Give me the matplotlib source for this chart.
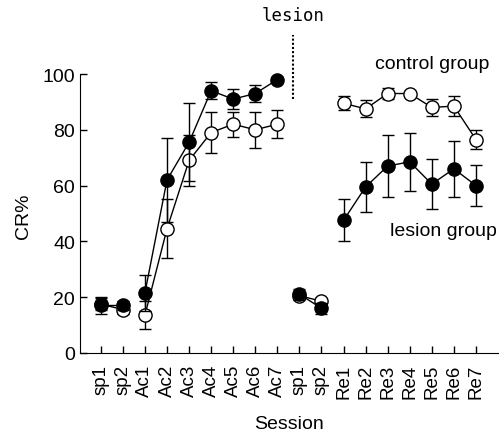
import numpy as np
import matplotlib
matplotlib.use('Agg')
import matplotlib.pyplot as plt

plt.rcParams['font.family'] = ['Liberation Sans', 'DejaVu Sans']

# sessioni (etichette asse x)
sessions = ['sp1', 'sp2', 'Ac1', 'Ac2', 'Ac3', 'Ac4', 'Ac5', 'Ac6', 'Ac7',
            'sp1', 'sp2', 'Re1', 'Re2', 'Re3', 'Re4', 'Re5', 'Re6', 'Re7']

# gruppo lesione (cerchi pieni)
lesion_mean = [17, 17, 21.5, 62, 75.5, 94, 91, 93, 98,
               21, 16, 47.5, 59.5, 67, 68.5, 60.5, 66, 60]
lesion_err = [3, 1.5, 6.5, 15, 14, 3, 3.5, 3, 1,
              2, 2, 7.5, 9, 11, 10.5, 9, 10, 7.5]

# gruppo controllo (cerchi vuoti)
control_mean = [17.5, 15.5, 13.5, 44.5, 69, 79, 82, 80, 82,
                20.5, 18.5, 89.5, 87.5, 93, 93, 88, 88.5, 76.5]
control_err = [2, 1.5, 5, 10.5, 9, 7.5, 4.5, 6.5, 5,
               1, 1, 2.5, 3, 2, 1, 3, 3.5, 3.5]

# blocchi collegati da linee
segments = [(0, 2), (2, 9), (9, 11), (11, 18)]

fig = plt.figure(figsize=(4.99, 4.39), dpi=100)
ax = fig.add_axes([0.160, 0.194, 0.838, 0.806])

x = np.arange(len(sessions))

def draw(mean, err, face, z):
    mean = np.array(mean); err = np.array(err)
    for a, b in segments:
        ax.plot(x[a:b], mean[a:b], color='k', lw=1, zorder=z)
    ax.errorbar(x, mean, yerr=err, fmt='none', ecolor='k', elinewidth=1,
                capsize=4, capthick=1, zorder=z)
    ax.plot(x, mean, 'o', ms=9.5, mfc=face, mec='k', mew=1, ls='none', zorder=z + 0.5)

draw(control_mean, control_err, 'white', 2)
draw(lesion_mean, lesion_err, 'black', 3)

ax.set_xlim(-0.95, 18.0)
ax.set_ylim(0, 126.9)
ax.spines['top'].set_visible(False)
ax.spines['right'].set_visible(False)
ax.spines['left'].set_bounds(0, 100)
ax.set_yticks([0, 20, 40, 60, 80, 100])
ax.set_xticks(x)
ax.set_xticklabels(sessions, rotation=90)
ax.tick_params(direction='in', length=5, width=1)
ax.tick_params(axis='y', labelsize=14)
ax.tick_params(axis='x', labelsize=13.5, pad=8)

ax.set_ylabel('CR%', fontsize=14)
ax.yaxis.set_label_coords(-0.115, 0.39)
ax.set_xlabel('Session', fontsize=14)
ax.xaxis.set_label_coords(0.50, -0.175)

# linea della lesione
ax.plot([8.7, 8.7], [91, 114], color='k', lw=1.5, ls=(0, (1, 1)))
ax.text(8.7, 121, 'lesion', fontsize=12.5, family='DejaVu Sans Mono',
        ha='center', va='center')
ax.text(17.6, 103.6, 'control group', fontsize=14, ha='right', va='center')
ax.text(17.95, 43.7, 'lesion group', fontsize=14, ha='right', va='center')

fig.savefig('out.png', dpi=100)
